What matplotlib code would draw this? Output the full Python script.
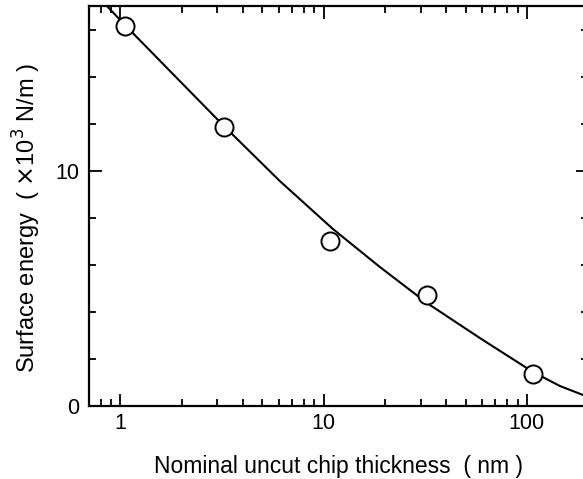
import numpy as np
import matplotlib
matplotlib.use("Agg")
import matplotlib.pyplot as plt
from matplotlib.ticker import FixedLocator, NullFormatter

plt.rcParams['font.family'] = ['Liberation Sans', 'DejaVu Sans']

# measured points
thickness = [1.058, 3.22, 10.7, 32.2, 107]
energy = [16.17, 11.87, 7.02, 4.72, 1.36]

# fitted curve, sampled along the trend
curve_x = [0.834, 1.058, 1.845, 3.22, 6.07, 11.08, 18.9, 32.2, 58.7, 107.0, 145.5, 188.7, 200.0]
curve_y = [17.11, 16.17, 14.04, 11.91, 9.57, 7.53, 5.91, 4.38, 2.89, 1.45, 0.85, 0.47, 0.38]

fig = plt.figure(figsize=(5.83, 4.79), dpi=100)
ax = fig.add_axes([89 / 583, 73 / 479, 499 / 583, 400 / 479])

ax.plot(curve_x, curve_y, color='black', lw=1.5, zorder=2)
ax.plot(thickness, energy, 'o', ms=13, mfc='white', mec='black', mew=1.4, zorder=3)

ax.set_xscale('log')
ax.set_xlim(0.7, 200)
ax.set_ylim(0, 17)

ax.xaxis.set_major_locator(FixedLocator([1, 10, 100]))
ax.set_xticklabels(['1', '10', '100'])
minor_x = [m * d for d in (1, 10, 100) for m in range(2, 10)] + [0.8, 0.9]
ax.xaxis.set_minor_locator(FixedLocator(minor_x))
ax.xaxis.set_minor_formatter(NullFormatter())

ax.set_yticks([0, 10])
ax.yaxis.set_minor_locator(FixedLocator([2, 4, 6, 8, 12, 14, 16]))

ax.tick_params(which='both', direction='in', top=True, right=True, width=1.3)
ax.tick_params(which='major', length=9, labelsize=15.5)
ax.tick_params(which='minor', length=5)
ax.tick_params(axis='x', which='major', pad=5)
ax.tick_params(axis='y', which='major', pad=7)

for s in ax.spines.values():
    s.set_linewidth(1.6)

ax.set_xlabel('Nominal uncut chip thickness  ( nm )', fontsize=16.5, labelpad=15)
ax.set_ylabel('Surface energy  ( $\\times$10$^3$ N/m )', fontsize=17)
ax.yaxis.set_label_coords(-0.092, 0.47)

fig.savefig('out.png', dpi=100)
